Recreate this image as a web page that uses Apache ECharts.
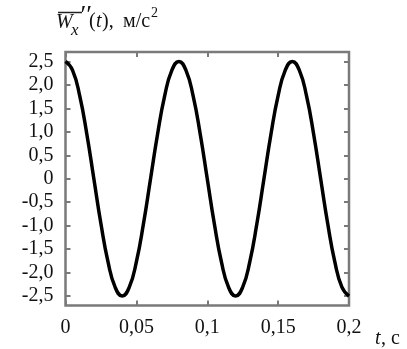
<!DOCTYPE html>
<html>
<head>
<meta charset="utf-8">
<script src="https://cdn.jsdelivr.net/npm/echarts@6/dist/echarts.min.js"></script>
<style>html,body{margin:0;padding:0;background:#fff}#c{width:407px;height:349px}</style>
</head>
<body>
<div id="c"></div>
<script>
// time, s
const tValues = [0,0.005,0.01,0.015,0.02,0.025,0.03,0.035,0.04,0.045,0.05,0.055,0.06,0.065,0.07,0.075,0.08,0.085,0.09,0.095,0.1,0.105,0.11,0.115,0.12,0.125,0.13,0.135,0.14,0.145,0.15,0.155,0.16,0.165,0.17,0.175,0.18,0.185,0.19,0.195,0.2];
// acceleration, m/s^2
const wValues = [2.5,2.31,1.77,0.96,0,-0.96,-1.77,-2.31,-2.5,-2.31,-1.77,-0.96,0,0.96,1.77,2.31,2.5,2.31,1.77,0.96,0,-0.96,-1.77,-2.31,-2.5,-2.31,-1.77,-0.96,0,0.96,1.77,2.31,2.5,2.31,1.77,0.96,0,-0.96,-1.77,-2.31,-2.5];
const yTicks = [-2.5,-2,-1.5,-1,-0.5,0,0.5,1,1.5,2,2.5];
const xTicks = [0,0.05,0.1,0.15,0.2];

const FONT = '"Liberation Serif", "Times New Roman", serif';
const axisGrey = '#7a7a7a';
const data = tValues.map((t, i) => [t, wValues[i]]);

const chart = echarts.init(document.getElementById('c'), null, {renderer: 'canvas'});
const fmtY = v => Math.abs(v) < 1e-9 ? '0' : v.toFixed(1).replace('.', ',');
const fmtX = v => String(Number(v.toFixed(2))).replace('.', ',');

chart.setOption({
  animation: false,
  backgroundColor: '#fff',
  grid: {left: 65.5, right: 58, top: 52, bottom: 43.5, show: true, borderColor: axisGrey, borderWidth: 2.5, backgroundColor: 'transparent'},
  xAxis: [{
    type: 'value', min: 0, max: 0.2, interval: 0.05,
    axisLine: {show: false, onZero: false},
    splitLine: {show: false},
    axisTick: {show: true, inside: true, length: 5, customValues: xTicks, lineStyle: {color: axisGrey, width: 2}},
    axisLabel: {customValues: xTicks, formatter: fmtX, fontFamily: FONT, fontSize: 20, color: '#111', margin: 12}
  }, {
    type: 'value', position: 'top', min: 0, max: 0.2, interval: 0.05,
    axisLine: {show: false, onZero: false}, splitLine: {show: false},
    axisTick: {show: true, inside: true, length: 5, customValues: xTicks, lineStyle: {color: axisGrey, width: 2}},
    axisLabel: {show: false}
  }],
  yAxis: [{
    type: 'value', min: -2.7, max: 2.7,
    axisLine: {show: false, onZero: false}, splitLine: {show: false},
    axisTick: {show: true, inside: true, length: 5, customValues: yTicks, lineStyle: {color: axisGrey, width: 2}},
    axisLabel: {customValues: yTicks, formatter: fmtY, fontFamily: FONT, fontSize: 20, color: '#111', margin: 12}
  }, {
    type: 'value', position: 'right', min: -2.7, max: 2.7,
    axisLine: {show: false, onZero: false}, splitLine: {show: false},
    axisTick: {show: true, inside: true, length: 5, customValues: yTicks, lineStyle: {color: axisGrey, width: 2}},
    axisLabel: {show: false}
  }],
  series: [{
    type: 'line', data: data, smooth: true, showSymbol: false,
    lineStyle: {color: '#000', width: 3.5}
  }],
  graphic: [
    {type: 'line', shape: {x1: 58, y1: 12.5, x2: 82, y2: 12.5}, style: {stroke: '#222', lineWidth: 1.5}},
    {type: 'text', left: 56, top: 13, style: {text: 'W', font: 'italic 20px ' + FONT, fill: '#111'}},
    {type: 'text', left: 71, top: 22, style: {text: 'x', font: 'italic 17px ' + FONT, fill: '#111'}},
    {type: 'text', left: 79, top: 3, style: {text: '′′', font: 'italic 26px ' + FONT, fill: '#111'}},
    {type: 'text', left: 89, top: 12, style: {text: '(', font: '20px ' + FONT, fill: '#111'}},
    {type: 'text', left: 96, top: 12, style: {text: 't', font: 'italic 20px ' + FONT, fill: '#111'}},
    {type: 'text', left: 102, top: 12, style: {text: '),', font: '20px ' + FONT, fill: '#111'}},
    {type: 'text', left: 123, top: 12, style: {text: 'м/с', font: '20px ' + FONT, fill: '#111'}},
    {type: 'text', left: 151, top: 6, style: {text: '2', font: '14px ' + FONT, fill: '#111'}},
    {type: 'text', left: 375, top: 329, style: {text: 't', font: 'italic 20px ' + FONT, fill: '#111'}},
    {type: 'text', left: 381, top: 329, style: {text: ', с', font: '20px ' + FONT, fill: '#111'}}
  ]
});
</script>
</body>
</html>
